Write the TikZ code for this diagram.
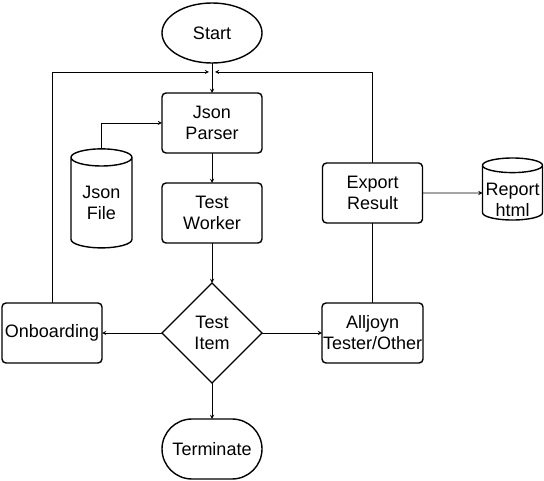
\documentclass[tikz,border=0pt]{standalone}
\usepackage{fontspec}
\setmainfont{Liberation Sans}
\usetikzlibrary{
  shapes.geometric,  % diamond, ellipse
  shapes.symbols,    % cylinder -- may not be needed
  positioning        % positions like below of node
}
\tikzset{
  every node/.style = {
    draw,
    line width=1.4pt,
    outer sep = 0pt,
    inner sep = 1pt,
    align=center,
    font=\fontsize{18}{21}\selectfont
  },
  process/.style = {rectangle, rounded corners=4pt, minimum width=100pt, minimum height=60pt},
  terminal/.style = {ellipse, minimum width=100pt, minimum height=60pt},
  terminate/.style = {rectangle, rounded corners=30pt, minimum width=100pt, minimum height=60pt},
  decision/.style = {diamond, aspect=1, minimum size=100pt, inner sep=0pt},
  store/.style = {cylinder, shape border rotate=90, shape aspect=0.45, inner sep=0pt},
  textonly/.style = {draw=none},
  flow/.style = {->, line width=0.9pt},
  >=stealth
}

\begin{document}
\begin{tikzpicture}

  \useasboundingbox (0,0) rectangle (544pt,-481pt);

  %% nodes
  \node[terminal] (Start) at (212pt,-33pt) {Start};

  \node[process] (JP) [below=30pt of Start] {Json\\Parser};
  \node[process] (TW) [below=30pt of JP] {Test\\Worker};

  \node[store, minimum width=61pt, minimum height=99pt] (JF) [left=30pt of TW, yshift=10pt] {Json\\File};

  \node[decision] (TI) [below=40pt of TW] {Test\\Item};
  \node[terminate] (TM) [below=36pt of TI] {Terminate};

  \node[process] (OB) [left=60pt of TI] {Onboarding};
  \node[process] (AT) [right=60pt of TI] {Alljoyn\\Tester/Other};

  \node[process] (ER) [above=80pt of AT] {Export\\Result};
  \node[store, minimum width=60pt, minimum height=62pt, shape aspect=0.27] (RH) [right=60pt of ER] {\phantom{Report}\\\phantom{html}};
  % text sits low in the cylinder
  \node[textonly] (RHt) at ([yshift=-7pt]RH.center) {Report\\html};

  \coordinate[below=9pt of Start] (M);

  %% arrows
  \draw[flow] (Start) to (JP);
  \draw[flow] (JF.north) |- (JP.west);
  \draw[flow] (JP) to (TW);
  \draw[flow] (TW) to (TI);
  \draw[flow] (TI) to (TM);
  \draw[flow] (TI) to (OB);
  \draw[flow] (TI) to (AT);
  \draw[flow] (ER) to (RH);

  \draw[flow] (OB.north) |- ([xshift=-3pt]M);
  \draw[flow] (ER.north) |- ([xshift=3pt]M);
  \draw[line width=0.9pt] (AT.north) to (ER.south);

\end{tikzpicture}
\end{document}
